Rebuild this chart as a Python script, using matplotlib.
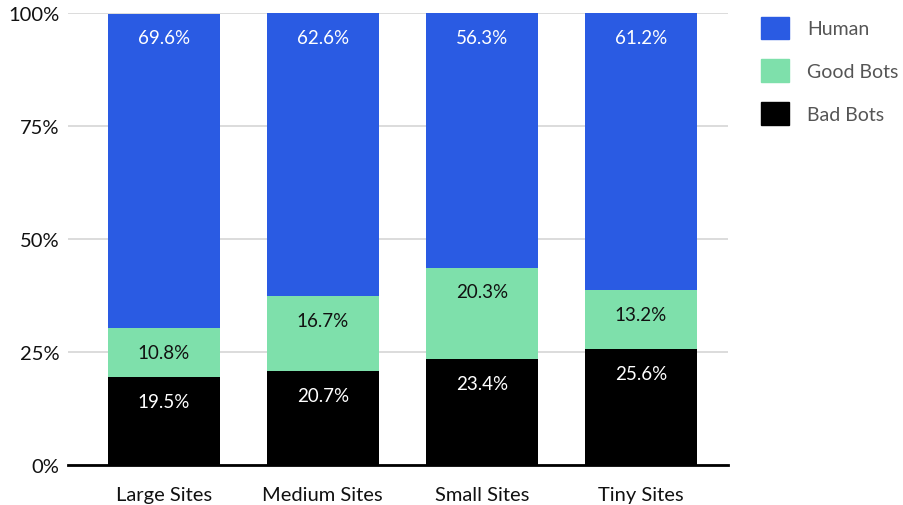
import matplotlib.pyplot as plt
from matplotlib.patches import Patch

plt.rcParams['font.family'] = ['Lato', 'DejaVu Sans']

sites = ["Large Sites", "Medium Sites", "Small Sites", "Tiny Sites"]
bad_bots = [19.5, 20.7, 23.4, 25.6]
good_bots = [10.8, 16.7, 20.3, 13.2]
human = [69.6, 62.6, 56.3, 61.2]

series = [
    ("Bad Bots", bad_bots, "#000000", "white"),
    ("Good Bots", good_bots, "#7EE0AB", "#111111"),
    ("Human", human, "#2A5BE3", "white"),
]

fig = plt.figure(figsize=(9.04, 5.06), dpi=100)
ax = fig.add_axes([0.075, 0.079, 0.73, 0.893])

x = range(len(sites))
bottoms = [0.0] * len(sites)
for name, vals, color, txt in series:
    ax.bar(x, vals, bottom=bottoms, width=0.704, color=color, zorder=2)
    for i, v in enumerate(vals):
        top = bottoms[i] + v
        ax.annotate(f"{v}%", (i, top), xytext=(0, -17.5), textcoords="offset points",
                    ha="center", va="center", color=txt, fontsize=13.5, zorder=3)
    bottoms = [b + v for b, v in zip(bottoms, vals)]

ax.set_xlim(-0.604, 3.547)
ax.set_ylim(0, 100)
ax.set_yticks([0, 25, 50, 75, 100])
ax.set_yticklabels(["0%", "25%", "50%", "75%", "100%"])
ax.set_xticks(list(x))
ax.set_xticklabels(sites)
ax.tick_params(axis="both", length=0, labelsize=14.5, colors="#111111")
ax.tick_params(axis="x", pad=15)
ax.tick_params(axis="y", pad=6)
ax.grid(axis="y", color="#d9d9d9", linewidth=1.3, zorder=0)
for s in ["top", "right", "left"]:
    ax.spines[s].set_visible(False)
ax.spines["bottom"].set_linewidth(2)
ax.spines["bottom"].set_zorder(4)

handles = [Patch(color=c, label=n) for n, _, c, _ in reversed(series)]
leg = fig.legend(handles=handles, loc="upper left", bbox_to_anchor=(0.823, 1.0),
                 frameon=False, fontsize=14, handlelength=1.4, handleheight=1.4,
                 labelspacing=1.05, handletextpad=0.95)
for t in leg.get_texts():
    t.set_color("#555555")

fig.savefig("out.png", dpi=100)
